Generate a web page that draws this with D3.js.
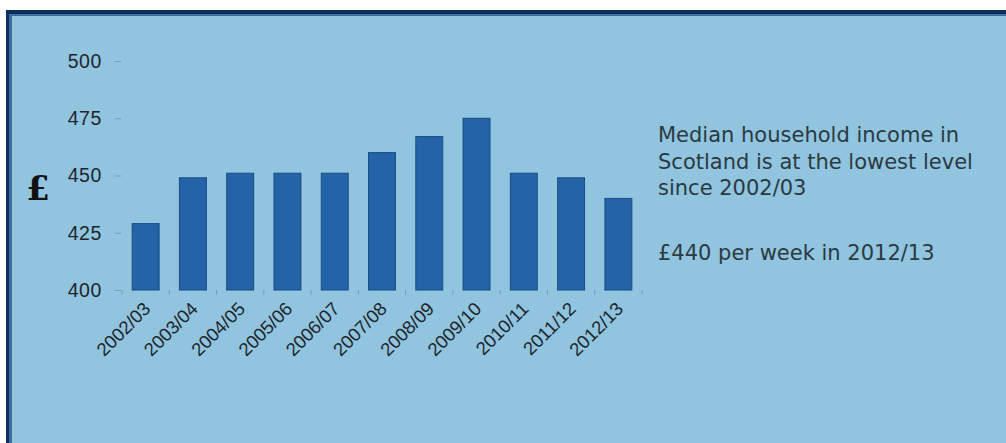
<!DOCTYPE html>
<html>
<head>
<meta charset="utf-8">
<script src="https://cdn.jsdelivr.net/npm/d3@7"></script>
<style>
  html, body { margin: 0; padding: 0; background: #fff; }
  svg { display: block; }
</style>
</head>
<body>
<svg id="chart" width="1006" height="443"></svg>
<script>
// Median household income, Scotland (£ per week)
const years = ["2002/03", "2003/04", "2004/05", "2005/06", "2006/07", "2007/08",
               "2008/09", "2009/10", "2010/11", "2011/12", "2012/13"];
const income = [429, 449, 451, 451, 451, 460, 467, 475, 451, 449, 440];
const yTicks = [400, 425, 450, 475, 500];
const noteLines = ["Median household income in", "Scotland is at the lowest level", "since 2002/03"];
const noteFigure = "£440 per week in 2012/13";

const W = 1006, H = 443;
const svg = d3.select("#chart");

// panel background with the dark frame on top and left
svg.append("rect").attr("x", 6).attr("y", 10).attr("width", W - 6).attr("height", H - 10)
    .attr("fill", "#91c4de");
svg.append("rect").attr("x", 6).attr("y", 10).attr("width", W - 6).attr("height", 4).attr("fill", "#0d2d5c");
svg.append("rect").attr("x", 6).attr("y", 14).attr("width", W - 6).attr("height", 2).attr("fill", "#3f6e9e");
svg.append("rect").attr("x", 6).attr("y", 10).attr("width", 3).attr("height", H - 10).attr("fill", "#0d2d5c");
svg.append("rect").attr("x", 9).attr("y", 14).attr("width", 3).attr("height", H - 14).attr("fill", "#3f6e9e");

const x = d3.scaleBand().domain(years).range([122, 642]).paddingInner(0.43).paddingOuter(0.215);
const y = d3.scaleLinear().domain([400, 500]).range([290, 61]);

// y axis
const yAxis = svg.append("g")
    .attr("transform", "translate(121,0)")
    .call(d3.axisLeft(y).tickValues(yTicks).tickSize(6).tickPadding(13));
yAxis.select(".domain").remove();
yAxis.selectAll(".tick line").attr("stroke", "#7c9db0");
yAxis.selectAll(".tick text")
    .attr("fill", "#1e262c")
    .style("font-family", "'Liberation Sans', Arial, sans-serif")
    .style("font-size", "19.5px")
    .style("letter-spacing", "0.6px");

// £ label
svg.append("text")
    .attr("x", 38).attr("y", 200)
    .attr("text-anchor", "middle")
    .style("font-family", "'DejaVu Serif', serif")
    .style("font-size", "34px")
    .style("font-weight", "bold")
    .attr("fill", "#111")
    .text("£");

// bars
svg.append("g").selectAll("rect")
    .data(years)
    .join("rect")
    .attr("x", d => x(d))
    .attr("y", (d, i) => y(income[i]))
    .attr("width", x.bandwidth())
    .attr("height", (d, i) => y(400) - y(income[i]))
    .attr("fill", "#2563a8")
    .attr("stroke", "#1a4c84")
    .attr("stroke-width", 1);

// category boundary ticks
const bounds = d3.range(years.length + 1).map(i => x.range()[0] + i * x.step());
svg.append("g").selectAll("line")
    .data(bounds)
    .join("line")
    .attr("x1", d => d).attr("x2", d => d)
    .attr("y1", y(400)).attr("y2", y(400) + 5)
    .attr("stroke", "#7c9db0");

// x labels rotated
const xAxis = svg.append("g")
    .attr("transform", `translate(0,${y(400)})`)
    .call(d3.axisBottom(x).tickSize(0).tickPadding(0));
xAxis.select(".domain").remove();
xAxis.selectAll(".tick text")
    .attr("fill", "#1e262c")
    .style("font-family", "'Liberation Sans', Arial, sans-serif")
    .style("font-size", "18.5px")
    .attr("text-anchor", "end")
    .attr("dy", null)
    .attr("y", 0)
    .attr("transform", "translate(6,20) rotate(-45)");

// annotation
const note = svg.append("g")
    .style("font-family", "'DejaVu Sans', sans-serif")
    .style("font-size", "21px")
    .attr("fill", "#2b3a41");
note.selectAll("text.line")
    .data(noteLines)
    .join("text")
    .attr("class", "line")
    .attr("x", 658)
    .attr("y", (d, i) => 142 + i * 26.5)
    .text(d => d);
note.append("text")
    .attr("x", 658).attr("y", 260)
    .text(noteFigure);
</script>
</body>
</html>
